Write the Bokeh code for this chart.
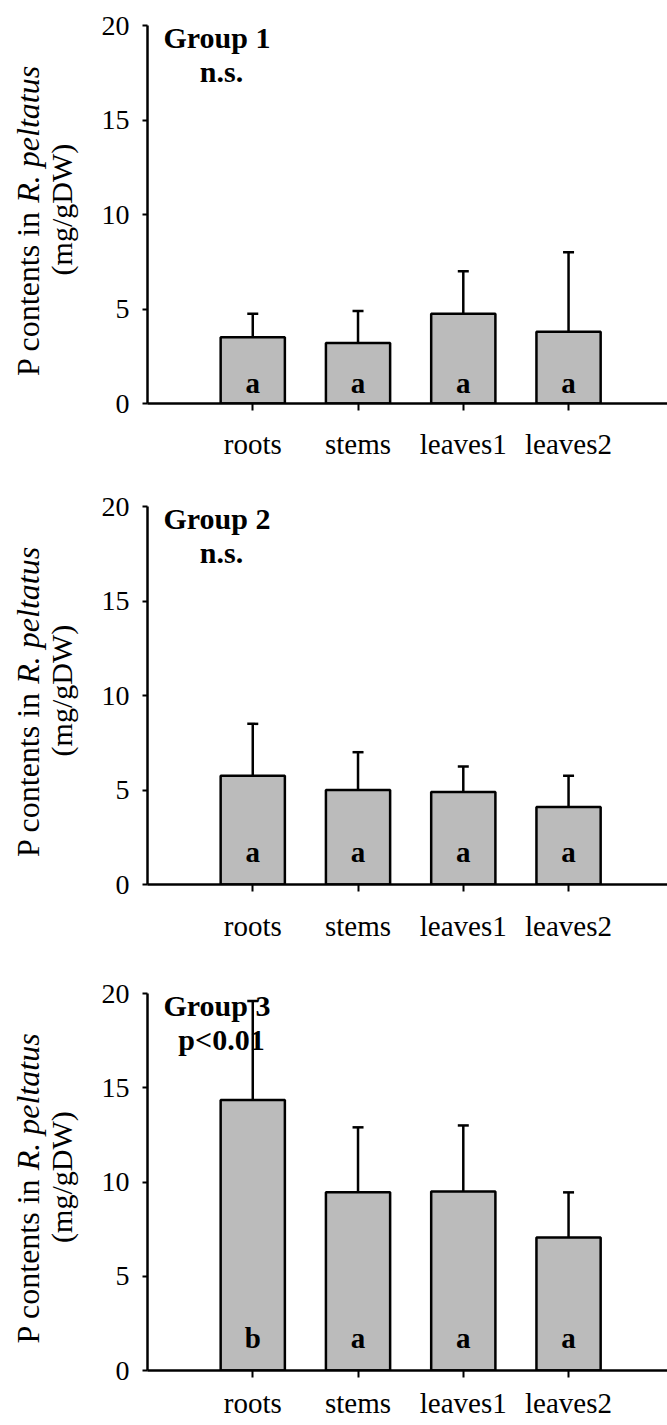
import numpy as np
from bokeh.plotting import figure
from bokeh.models import Range1d, FixedTicker, Label, Whisker, TeeHead, ColumnDataSource
from bokeh.layouts import column, row
from bokeh.embed import file_html
from bokeh.resources import INLINE
from bokeh.core.properties import value

# ---------------- data ----------------
categories = ["roots", "stems", "leaves1", "leaves2"]
group_titles = ["Group 1", "Group 2", "Group 3"]
significance = ["n.s.", "n.s.", "p<0.01"]

g1_means = [3.5, 3.2, 4.75, 3.8]
g1_upper = [4.75, 4.9, 7.0, 8.0]
g1_letters = ["a", "a", "a", "a"]

g2_means = [5.75, 5.0, 4.9, 4.1]
g2_upper = [8.5, 7.0, 6.25, 5.75]
g2_letters = ["a", "a", "a", "a"]

g3_means = [14.35, 9.45, 9.5, 7.05]
g3_upper = [19.6, 12.9, 13.0, 9.45]
g3_letters = ["b", "a", "a", "a"]

y_ticks = [0, 5, 10, 15, 20]

# ---------------- style ----------------
FONT = value("Liberation Serif")
BAR_FILL = "#bbbbbb"
TITLE_W = 80
MAIN_W = 667 - TITLE_W


def title_panel(height, border_top, border_bottom):
    t = figure(width=TITLE_W, height=height, x_range=Range1d(0, TITLE_W),
               y_range=Range1d(0, 20), x_axis_type=None, y_axis_type=None,
               output_backend="svg", toolbar_location=None,
               min_border_left=0, min_border_right=0, min_border_top=border_top,
               min_border_bottom=border_bottom)
    t.outline_line_color = None
    t.grid.visible = False
    join = 10.2
    common = dict(angle=np.pi / 2, text_baseline="alphabetic", text_font=FONT,
                  text_color="black")
    t.text(x=[27], y=[join], text=["P contents in"], text_align="right",
           text_font_size="32px", **common)
    t.text(x=[27], y=[join], text=["R. peltatus"], text_align="left", y_offset=-8,
           text_font_style="italic", text_font_size="32px", **common)
    t.text(x=[61], y=[10.26], text=["(mg/gDW)"], text_align="center",
           text_font_size="30px", **common)
    return t


def make_panel(title, sig, means, upper, letters, height, border_top, border_bottom,
               xlabel_standoff, letter_offset):
    xs = list(range(1, len(categories) + 1))
    src = ColumnDataSource(dict(x=xs, top=means, upper=upper, letters=letters))

    p = figure(width=MAIN_W, height=height, x_range=Range1d(0, 4.94), y_range=Range1d(0, 20),
               output_backend="svg", toolbar_location=None,
               min_border_left=147 - TITLE_W, min_border_right=0, min_border_top=border_top,
               min_border_bottom=border_bottom)
    p.outline_line_color = None
    p.grid.visible = False
    p.background_fill_color = "white"

    p.vbar(x="x", top="top", bottom=0, width=0.61, source=src,
           fill_color=BAR_FILL, line_color="black", line_width=2.5)

    wh = Whisker(base="x", lower="top", upper="upper", source=src, dimension="height",
                 line_color="black", line_width=2.5, lower_head=None,
                 upper_head=TeeHead(size=11, line_color="black", line_width=2.5))
    p.add_layout(wh)

    p.text(x="x", y=0, text="letters", source=src, text_align="center",
           text_baseline="alphabetic", y_offset=-letter_offset,
           text_font=FONT, text_font_style="bold", text_font_size="29px",
           text_color="black")

    # axes
    for ax in (p.xaxis, p.yaxis):
        ax.axis_line_width = 2.5
        ax.axis_line_color = "black"
        ax.major_tick_line_width = 2
        ax.major_tick_line_color = "black"
        ax.major_tick_in = 0
        ax.minor_tick_out = 0
        ax.minor_tick_in = 0
        ax.major_label_text_font = "Liberation Serif"
        ax.major_label_text_color = "black"

    p.yaxis.ticker = FixedTicker(ticks=y_ticks)
    p.yaxis.major_tick_out = 5
    p.yaxis.major_label_standoff = 13
    p.yaxis.major_label_text_font_size = "28px"

    p.xaxis.ticker = FixedTicker(ticks=xs)
    p.xaxis.major_label_overrides = {x: c for x, c in zip(xs, categories)}
    p.xaxis.major_tick_out = 7
    p.xaxis.major_label_standoff = xlabel_standoff
    p.xaxis.major_label_text_font_size = "29px"

    # group annotations
    p.add_layout(Label(x=0, y=20, x_offset=16, y_offset=-12, text=title,
                       text_align="left", text_baseline="alphabetic",
                       text_font="Liberation Serif", text_font_size="30px",
                       text_font_style="bold", text_color="black"))
    p.add_layout(Label(x=0, y=20, x_offset=74, y_offset=-46, text=sig,
                       text_align="center", text_baseline="alphabetic",
                       text_font="Liberation Serif", text_font_size="30px",
                       text_font_style="bold", text_color="black"))

    return row(title_panel(height, border_top, border_bottom), p, spacing=0)


r1 = make_panel(group_titles[0], significance[0], g1_means, g1_upper, g1_letters,
                489, 25, 86, 17, 21)
r2 = make_panel(group_titles[1], significance[1], g2_means, g2_upper, g2_letters,
                485, 17, 90, 18, 33)
r3 = make_panel(group_titles[2], significance[2], g3_means, g3_upper, g3_letters,
                451, 19, 55, 9, 33)

layout = column(r1, r2, r3, spacing=0)
open("out.html", "w").write(file_html(layout, INLINE, title="P contents"))
